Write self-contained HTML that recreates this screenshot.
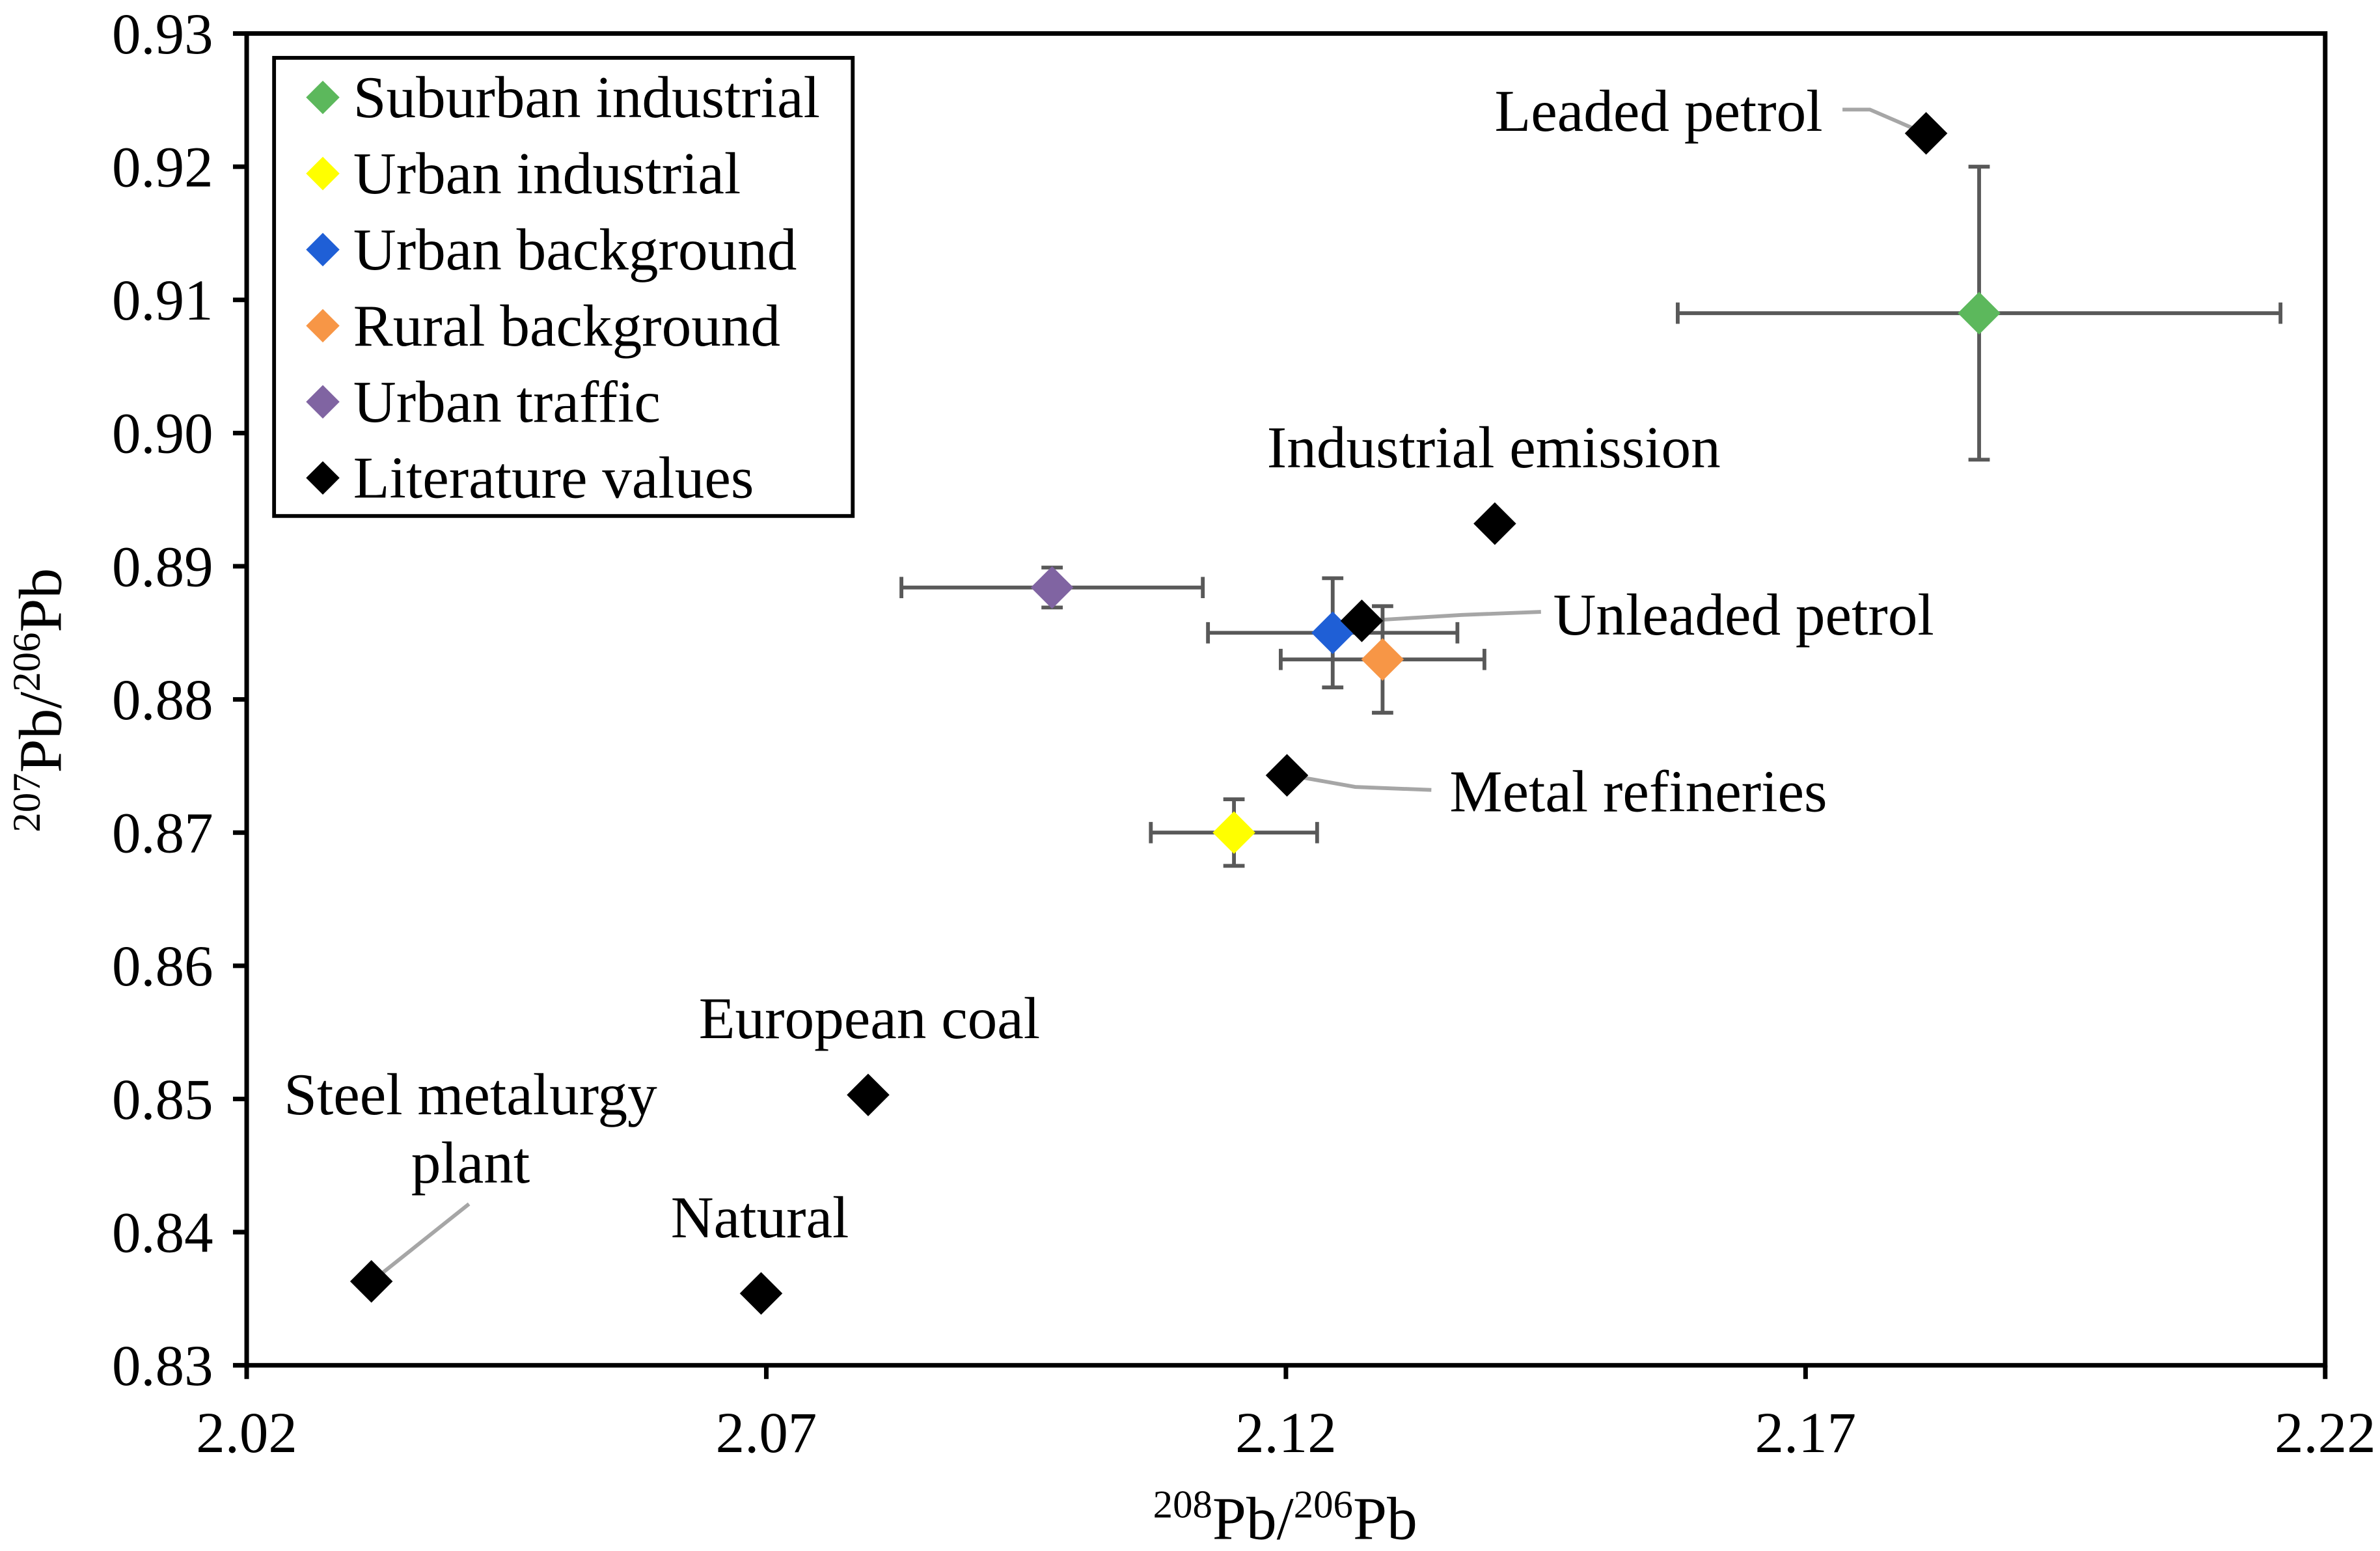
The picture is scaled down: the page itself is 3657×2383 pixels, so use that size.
<!DOCTYPE html>
<html><head><meta charset="utf-8"><style>
html,body{margin:0;padding:0;background:#fff;}
svg{display:block;}
text{font-family:"Liberation Serif",serif;fill:#000;}
</style></head><body>
<svg id="chart" width="3657" height="2383" viewBox="0 0 1563 1019" preserveAspectRatio="none" xmlns="http://www.w3.org/2000/svg">
<rect x="162" y="22" width="1365" height="875" fill="#fff" stroke="#000" stroke-width="3"/>
<g id="axes"></g>
<g id="leaders">
<polyline points="1210,72 1228,72 1265,88" fill="none" stroke="#a6a6a6" stroke-width="2.5"/>
<polyline points="1012,402 960,404 894,408" fill="none" stroke="#a6a6a6" stroke-width="2.5"/>
<polyline points="940,519 890,517 845,509" fill="none" stroke="#a6a6a6" stroke-width="2.5"/>
<polyline points="308,791 244,842" fill="none" stroke="#a6a6a6" stroke-width="2.5"/>
</g>
<g id="marks"></g>
<g font-size="39">
<text x="1197" y="86" text-anchor="end">Leaded petrol</text>
<text x="981" y="307" text-anchor="middle">Industrial emission</text>
<text x="1020" y="417">Unleaded petrol</text>
<text x="952" y="533">Metal refineries</text>
<text x="571" y="682" text-anchor="middle">European coal</text>
<text x="309" y="732" text-anchor="middle">Steel metalurgy</text>
<text x="309" y="777" text-anchor="middle">plant</text>
<text x="499" y="813" text-anchor="middle">Natural</text>
</g>
<g>
<rect x="180" y="38" width="380" height="301" fill="#fff" stroke="#000" stroke-width="2.5"/>
<g id="legend-items" font-size="39"></g>
</g>
<text x="844" y="1011" text-anchor="middle" font-size="40"><tspan font-size="26" dy="-14">208</tspan><tspan dy="14">Pb/</tspan><tspan font-size="26" dy="-14">206</tspan><tspan dy="14">Pb</tspan></text>
<text transform="translate(40,460) rotate(-90)" text-anchor="middle" font-size="40"><tspan font-size="26" dy="-14">207</tspan><tspan dy="14">Pb/</tspan><tspan font-size="26" dy="-14">206</tspan><tspan dy="14">Pb</tspan></text>
</svg>
<script>
const xTicks=[2.02,2.07,2.12,2.17,2.22];
const yTicks=[0.83,0.84,0.85,0.86,0.87,0.88,0.89,0.90,0.91,0.92,0.93];
const seriesNames=["Suburban industrial","Urban industrial","Urban background","Rural background","Urban traffic"];
const seriesColors=["#5cb85c","#ffff00","#1f5fd6","#f79646","#8064a2"];
const seriesX=[2.1867,2.115,2.1245,2.1293,2.0975];
const seriesY=[0.909,0.870,0.885,0.883,0.8884];
const seriesXErr=[0.029,0.008,0.012,0.0098,0.0145];
const seriesYErr=[0.011,0.0025,0.0041,0.004,0.0015];
const litNames=["Leaded petrol","Industrial emission","Unleaded petrol","Metal refineries","European coal","Natural","Steel metalurgy plant"];
const litX=[2.1816,2.1401,2.1273,2.1201,2.0798,2.0695,2.032];
const litY=[0.9225,0.8932,0.8859,0.8743,0.8503,0.8354,0.8363];

const NS="http://www.w3.org/2000/svg";
const X0=162,X1=1527,Y0=897,Y1=22;
const sx=v=>X0+(v-2.02)/(0.2)*(X1-X0);
const sy=v=>Y0-(v-0.83)/(0.1)*(Y0-Y1);
function mk(tag,attrs,parent){const e=document.createElementNS(NS,tag);for(const k in attrs)e.setAttribute(k,attrs[k]);parent.appendChild(e);return e;}
const axes=document.getElementById('axes');
xTicks.forEach(t=>{
  const l=mk('line',{x1:sx(t),x2:sx(t),y1:Y0,y2:Y0+9,stroke:'#000','stroke-width':3},axes);
  
  
  const tx=mk('text',{x:sx(t),y:Y0+57,'text-anchor':'middle','font-size':38},axes);
  tx.textContent=t.toFixed(2);
  
  
});
yTicks.forEach(t=>{
  const l=mk('line',{x1:X0-9,x2:X0,y1:sy(t),y2:sy(t),stroke:'#000','stroke-width':3},axes);
  
  
  const tx=mk('text',{x:X0-22,y:sy(t)+13,'text-anchor':'end','font-size':38},axes);
  tx.textContent=t.toFixed(2);
  
  
});
function diamond(cx,cy,r,fill,parent){
  return mk('polygon',{points:`${cx},${cy-r} ${cx+r},${cy} ${cx},${cy+r} ${cx-r},${cy}`,fill:fill},parent);
}
const marks=document.getElementById('marks');
seriesX.forEach((v,i)=>{
  const g=mk('g',{},marks);
  
  
  const cx=sx(v),cy=sy(seriesY[i]);
  const xl=sx(v-seriesXErr[i]),xr=sx(v+seriesXErr[i]);
  const yt=sy(seriesY[i]+seriesYErr[i]),yb=sy(seriesY[i]-seriesYErr[i]);
  const st={stroke:'#595959','stroke-width':2.5};
  mk('line',Object.assign({x1:xl,x2:xr,y1:cy,y2:cy},st),g);
  mk('line',Object.assign({x1:xl,x2:xl,y1:cy-7,y2:cy+7},st),g);
  mk('line',Object.assign({x1:xr,x2:xr,y1:cy-7,y2:cy+7},st),g);
  mk('line',Object.assign({x1:cx,x2:cx,y1:yt,y2:yb},st),g);
  mk('line',Object.assign({x1:cx-7,x2:cx+7,y1:yt,y2:yt},st),g);
  mk('line',Object.assign({x1:cx-7,x2:cx+7,y1:yb,y2:yb},st),g);
  diamond(cx,cy,14,seriesColors[i],g);
});
litX.forEach((v,i)=>{
  const d=diamond(sx(v),sy(litY[i]),14,'#000',marks);
  
  
});
const leg=document.getElementById('legend-items');
const legNames=seriesNames.concat(["Literature values"]);
const legColors=seriesColors.concat(["#000"]);
legNames.forEach((n,i)=>{
  const y=64+i*50;
  const g=mk('g',{},leg);
  
  
  diamond(212,y,11,legColors[i],g);
  const t=mk('text',{x:232,y:y+13,'font-size':39},g);
  t.textContent=n;
});
</script>
</body></html>
